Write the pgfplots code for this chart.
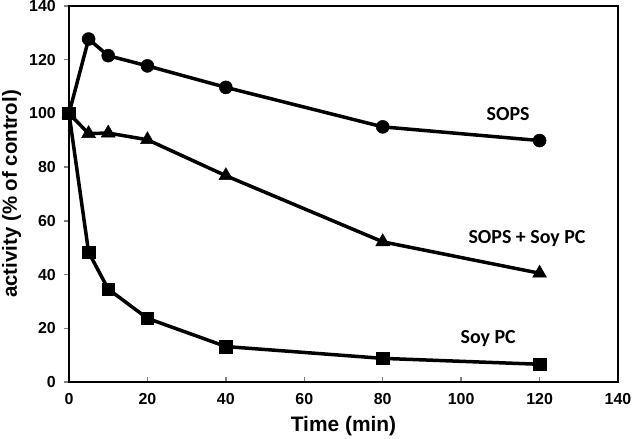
\documentclass[border=0pt]{standalone}
\usepackage{fontspec}
\setmainfont{Liberation Sans}
\newfontfamily\carlito{Carlito}
\usepackage{pgfplots}
\pgfplotsset{compat=1.18}
\begin{document}
\begin{tikzpicture}
\begin{axis}[
  name=ax,
  scale only axis,
  width=549bp, height=376bp,
  xmin=0, xmax=140, ymin=0, ymax=140,
  xtick={0,20,...,140}, ytick={0,20,...,140},
  axis line style={line width=2bp},
  tick align=inside,
  major tick length=5bp,
  xtick style={line width=1.5bp},
  ytick style={line width=1.5bp, xshift=-5bp},
  /pgf/number format/assume math mode=true,
  ticklabel style={font=\fontsize{16}{18}\selectfont\bfseries, inner sep=1bp},
  xticklabel style={yshift=-10.5bp},
  yticklabel style={xshift=-12bp},
  xtick pos=bottom, ytick pos=left,
  xlabel={Time (min)},
  ylabel={activity (\% of control)},
  every axis x label/.style={at={(axis description cs:0.5,0)}, anchor=base, yshift=-49bp, font=\fontsize{21}{24}\selectfont\bfseries},
  every axis y label/.style={at={(axis description cs:0,0.5)}, xshift=-52bp, anchor=base, rotate=90, font=\fontsize{20.5}{24}\selectfont\bfseries},
  clip=false,
]
\addplot[black, line width=3.5bp, mark=*, mark size=6.5bp, mark options={fill=black, line width=0.5bp}]
  coordinates {(0,100) (5,127.7) (10,121.5) (20,117.7) (40,109.7) (80,95) (120,89.9)};
\addplot[black, line width=3.5bp, mark=triangle*, mark size=8bp, mark options={fill=black, line width=0.5bp}]
  coordinates {(0,100) (5,92.5) (10,92.7) (20,90.2) (40,76.8) (80,52.2) (120,40.5)};
\addplot[black, line width=3.5bp, mark=square*, mark size=6.3bp, mark options={fill=black, line width=0.5bp}]
  coordinates {(0,100) (5,48.3) (10,34.6) (20,23.7) (40,13.2) (80,8.8) (120,6.6)};
\node[font=\carlito\fontsize{20}{24}\selectfont\bfseries] at (axis cs:112,99.8) {SOPS};
\node[font=\carlito\fontsize{20}{24}\selectfont\bfseries] at (axis cs:116.8,53.6) {SOPS + Soy PC};
\node[font=\carlito\fontsize{20}{24}\selectfont\bfseries] at (axis cs:106.9,16) {Soy PC};
\end{axis}
\draw[line width=2bp, black] (ax.south west) rectangle (ax.north east);
\pgfresetboundingbox
\path ([shift={(-69bp,-57bp)}]ax.south west) rectangle ([shift={(15bp,6bp)}]ax.north east);
\end{tikzpicture}
\end{document}
